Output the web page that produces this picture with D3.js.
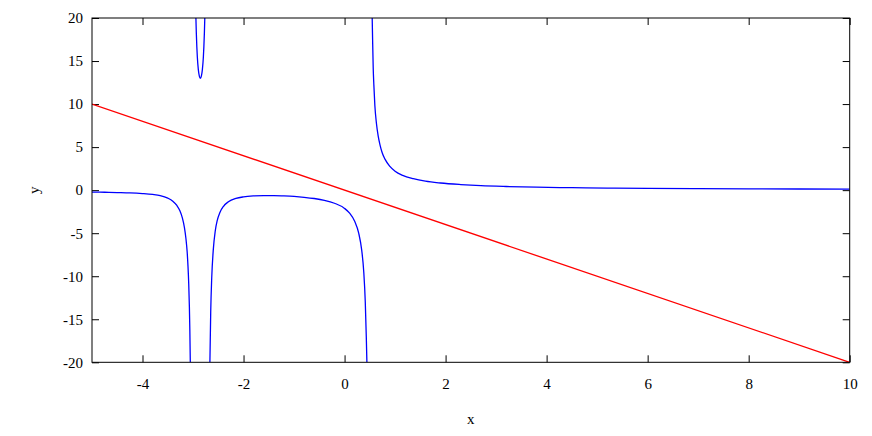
<!DOCTYPE html>
<html>
<head>
<meta charset="utf-8">
<script src="https://cdn.jsdelivr.net/npm/d3@7"></script>
<style>
  html, body { margin: 0; padding: 0; background: #fff; }
  svg { display: block; }
  svg text { font-family: "Liberation Serif", "Times New Roman", "DejaVu Serif", serif; }
</style>
</head>
<body>
<svg id="chart" width="872" height="436"></svg>
<script>
// ---- data ----
const xDomain = [-5, 10];
const yDomain = [-20, 20];
const xTicks = [-4, -2, 0, 2, 4, 6, 8, 10];
const yTicks = [-20, -15, -10, -5, 0, 5, 10, 15, 20];

// red straight line
const lineX = [-5, 10];
const lineY = [10, -20];

// blue curve, split into branches between its vertical asymptotes
const branch1X = [-5, -4.75, -4.5, -4.25, -4.0, -3.8, -3.65, -3.5, -3.4, -3.32, -3.26, -3.21, -3.17, -3.14, -3.117, -3.10, -3.085, -3.072, -3.063, -3.054];
const branch1Y = [-0.22, -0.245, -0.28, -0.32, -0.40, -0.50, -0.63, -0.92, -1.28, -1.78, -2.4, -3.25, -4.35, -5.65, -7.1, -8.8, -10.9, -13.6, -16.3, -20];

const branch2X = [-2.943, -2.935, -2.925, -2.915, -2.895, -2.875, -2.855, -2.835, -2.815, -2.795, -2.785, -2.775, -2.767];
const branch2Y = [20, 18.3, 16.7, 15.5, 14.0, 13.25, 13.0, 13.25, 14.0, 15.5, 16.7, 18.3, 20];

const branch3X = [-2.666, -2.65, -2.63, -2.60, -2.56, -2.52, -2.47, -2.40, -2.30, -2.15, -2.0, -1.8, -1.6, -1.4, -1.2, -1.0, -0.8, -0.6, -0.4, -0.2, 0.0, 0.1, 0.2, 0.28, 0.34, 0.38, 0.41, 0.43, 0.442];
const branch3Y = [-20, -14.2, -10.2, -7.0, -4.75, -3.5, -2.62, -1.9, -1.35, -0.96, -0.78, -0.67, -0.63, -0.63, -0.67, -0.73, -0.83, -0.97, -1.18, -1.52, -2.12, -2.68, -3.62, -5.0, -7.0, -9.5, -13.0, -17.0, -20];

const branch4X = [0.547, 0.555, 0.567, 0.58, 0.60, 0.63, 0.665, 0.70, 0.745, 0.80, 0.897, 1.0, 1.15, 1.36, 1.6, 1.9, 2.3, 2.7, 3.2, 3.8, 4.5, 5.2, 6, 7, 8, 9, 10];
const branch4Y = [20, 17.5, 14.2, 12.2, 9.8, 7.8, 6.3, 5.3, 4.35, 3.6, 2.76, 2.2, 1.72, 1.33, 1.04, 0.83, 0.65, 0.52, 0.424, 0.347, 0.287, 0.244, 0.209, 0.177, 0.153, 0.135, 0.121];

const xLabel = "x";
const yLabel = "y";

// ---- layout ----
const W = 872, H = 436;
const margin = { left: 92, top: 18, right: 22.3, bottom: 73.7 };
const iw = W - margin.left - margin.right;
const ih = H - margin.top - margin.bottom;
const FONT = "'Liberation Serif', 'Times New Roman', serif";

const svg = d3.select("#chart");
const g = svg.append("g").attr("transform", `translate(${margin.left},${margin.top})`);

const xs = d3.scaleLinear().domain(xDomain).range([0, iw]);
const ys = d3.scaleLinear().domain(yDomain).range([ih, 0]);

g.append("clipPath").attr("id", "clip")
  .append("rect").attr("x", 0).attr("y", 0).attr("width", iw).attr("height", ih);

const fontSize = 15;
const TICK = 7;
const fmt = d => String(d);

// axes (ticks inward, mirrored on top and right)
const axBottom = g.append("g").attr("transform", `translate(0,${ih})`)
  .call(d3.axisBottom(xs).tickValues(xTicks).tickSize(-TICK).tickPadding(16).tickFormat(fmt));
const axLeft = g.append("g")
  .call(d3.axisLeft(ys).tickValues(yTicks).tickSize(-TICK).tickPadding(9).tickFormat(fmt));
const axTop = g.append("g")
  .call(d3.axisTop(xs).tickValues(xTicks).tickSize(-TICK).tickFormat(""));
const axRight = g.append("g").attr("transform", `translate(${iw},0)`)
  .call(d3.axisRight(ys).tickValues(yTicks).tickSize(-TICK).tickFormat(""));

[axBottom, axLeft, axTop, axRight].forEach(a => {
  a.attr("font-family", FONT).attr("font-size", fontSize);
  a.select(".domain").remove();
  a.selectAll(".tick line").attr("stroke", "#000").attr("stroke-width", 1);
  a.selectAll("text").style("font-family", FONT).style("font-size", fontSize + "px").attr("fill", "#000");
});

// curves
const makeLine = (xv, yv, curve) => d3.line()
  .x((d, i) => xs(xv[i]))
  .y((d, i) => ys(yv[i]))
  .curve(curve)(xv);

const plot = g.append("g").attr("clip-path", "url(#clip)");

[[branch1X, branch1Y], [branch2X, branch2Y], [branch3X, branch3Y], [branch4X, branch4Y]].forEach(([xv, yv]) => {
  plot.append("path")
    .attr("d", makeLine(xv, yv, d3.curveMonotoneX))
    .attr("fill", "none")
    .attr("stroke", "#0000ff")
    .attr("stroke-width", 1.3);
});

plot.append("path")
  .attr("d", makeLine(lineX, lineY, d3.curveLinear))
  .attr("fill", "none")
  .attr("stroke", "#ff0000")
  .attr("stroke-width", 1.3);

// frame
g.append("rect")
  .attr("x", 0).attr("y", 0).attr("width", iw).attr("height", ih)
  .attr("fill", "none").attr("stroke", "#000").attr("stroke-width", 1);

// axis labels
svg.append("text")
  .attr("x", margin.left + iw / 2).attr("y", 423.5)
  .attr("text-anchor", "middle")
  .style("font-family", FONT).style("font-size", fontSize + "px")
  .text(xLabel);

svg.append("text")
  .attr("transform", `translate(39,${margin.top + ih / 2}) rotate(-90)`)
  .attr("text-anchor", "middle")
  .style("font-family", FONT).style("font-size", fontSize + "px")
  .text(yLabel);
</script>
</body>
</html>
